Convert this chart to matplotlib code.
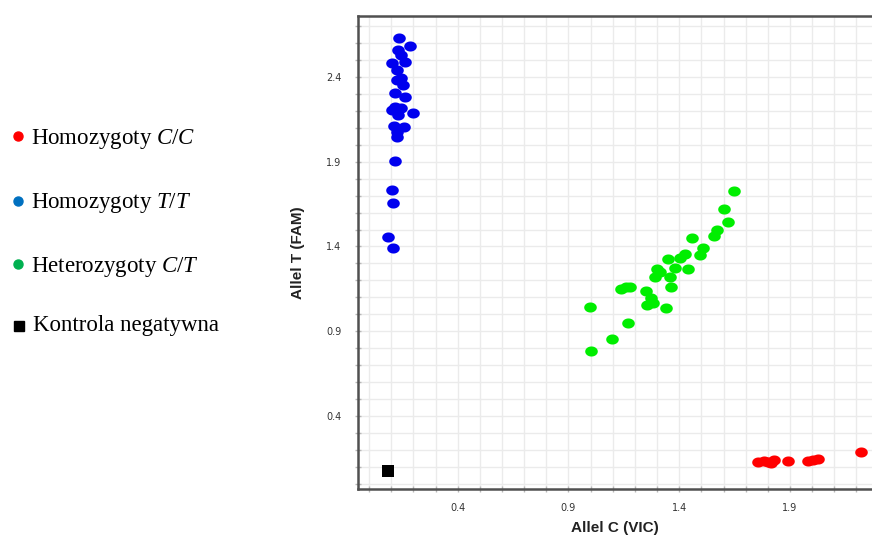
import matplotlib
matplotlib.use("Agg")
import matplotlib.pyplot as plt
import numpy as np
from matplotlib.path import Path
from matplotlib.ticker import MultipleLocator, FixedLocator

# ---------------- data ----------------
# Homozygoty T/T (blue)
tt_x = [0.134, 0.184, 0.130, 0.142, 0.164, 0.104, 0.124, 0.142, 0.154, 0.127,
        0.119, 0.164, 0.119, 0.142, 0.104, 0.197, 0.130, 0.157, 0.111, 0.127,
        0.127, 0.116, 0.104, 0.109, 0.086, 0.107]
tt_y = [2.628, 2.585, 2.559, 2.530, 2.490, 2.481, 2.440, 2.392, 2.353, 2.382,
        2.307, 2.280, 2.225, 2.215, 2.205, 2.186, 2.176, 2.107, 2.111, 2.077,
        2.048, 1.906, 1.733, 1.655, 1.458, 1.389]

# Heterozygoty C/T (green)
ct_x = [1.647, 1.604, 1.618, 1.572, 1.557, 1.456, 1.509, 1.493, 1.425, 1.403,
        1.347, 1.380, 1.438, 1.312, 1.290, 1.357, 1.365, 1.176, 1.139, 1.252,
        1.271, 1.256, 1.282, 1.339, 0.995, 1.169, 1.096, 1.003, 1.160, 1.300]
ct_y = [1.729, 1.619, 1.543, 1.497, 1.462, 1.448, 1.389, 1.350, 1.356, 1.334,
        1.324, 1.271, 1.265, 1.251, 1.222, 1.222, 1.163, 1.163, 1.149, 1.139,
        1.094, 1.055, 1.065, 1.039, 1.045, 0.947, 0.854, 0.785, 1.160, 1.270]

# Homozygoty C/C (red)
cc_x = [1.755, 1.781, 1.815, 1.826, 1.889, 1.981, 2.003, 2.027, 2.222, 1.800]
cc_y = [0.130, 0.136, 0.124, 0.140, 0.136, 0.136, 0.140, 0.146, 0.186, 0.128]

# Kontrola negatywna (black)
ntc_x = [0.086]
ntc_y = [0.076]

x_ticks = [0.4, 0.9, 1.4, 1.9]
y_ticks = [0.4, 0.9, 1.4, 1.9, 2.4]
x_label = "Allel C (VIC)"
y_label = "Allel T (FAM)"

legend_labels = [r"Homozygoty $\mathit{C/C}$", r"Homozygoty $\mathit{T/T}$",
                 r"Heterozygoty $\mathit{C/T}$", "Kontrola negatywna"]
legend_colors = ["#ff0000", "#0070c0", "#00b050", "#000000"]
legend_markers = ["o", "o", "o", "s"]

# ---------------- style ----------------
plt.rcParams["mathtext.fontset"] = "custom"
plt.rcParams["mathtext.rm"] = "Liberation Serif"
plt.rcParams["mathtext.it"] = "Liberation Serif:italic"

W, H = 872, 536
fig = plt.figure(figsize=(W / 100, H / 100), dpi=100)

ax = fig.add_axes([358 / W, 1 - 489 / H, 1 - 358 / W, (489 - 15.5) / H])
ax.set_xlim(-0.050, 2.270)
ax.set_ylim(-0.031, 2.763)

t = np.linspace(0, 2 * np.pi, 64)
ell = Path(np.column_stack([np.cos(t), 0.8 * np.sin(t)]), closed=True)

ax.scatter(tt_x, tt_y, marker=ell, s=82, color="#0000ee", linewidths=0, zorder=3)
ax.scatter(ct_x, ct_y, marker=ell, s=82, color="#00ee00", linewidths=0, zorder=3)
ax.scatter(cc_x, cc_y, marker=ell, s=82, color="#ff0000", linewidths=0, zorder=3)
ax.scatter(ntc_x, ntc_y, marker="s", s=70, color="#000000", linewidths=0, zorder=3)

ax.xaxis.set_major_locator(FixedLocator(x_ticks))
ax.yaxis.set_major_locator(FixedLocator(y_ticks))
ax.xaxis.set_minor_locator(MultipleLocator(0.1))
ax.yaxis.set_minor_locator(MultipleLocator(0.1))
ax.set_xticklabels([f"{v:.1f}" for v in x_ticks])
ax.set_yticklabels([f"{v:.1f}" for v in y_ticks])
ax.grid(which="both", color="#ebebeb", linewidth=1.0, zorder=0)
ax.set_axisbelow(True)
ax.tick_params(which="both", direction="inout", length=4, width=1,
               color="#b8b8b8", labelsize=7, labelcolor="#333333")
ax.tick_params(axis="x", pad=8)
ax.tick_params(axis="y", pad=10)

for s in ["left", "bottom", "top"]:
    ax.spines[s].set_color("#505050")
    ax.spines[s].set_linewidth(1.8)
ax.spines["right"].set_visible(False)

ax.set_xlabel(x_label, fontsize=11, fontweight="bold", family="Liberation Sans",
              color="#222222", labelpad=6)
ax.set_ylabel(y_label, fontsize=11, fontweight="bold", family="Liberation Sans",
              color="#222222", labelpad=15)

# ---------------- legend (left side) ----------------
leg = fig.add_axes([0, 0, 1, 1], facecolor="none")
leg.set_xlim(0, W)
leg.set_ylim(H, 0)
leg.axis("off")
row_y = [136, 200.5, 264, 325.5]
base_y = [144, 208.3, 272.3, 331]
text_x = [31, 31, 31, 33]
for lab, col, mk, ry, by, tx in zip(legend_labels, legend_colors, legend_markers,
                                     row_y, base_y, text_x):
    ms = 6.5 if mk == "o" else 7.0
    leg.plot([17.5 if mk == "o" else 19], [ry], marker=mk, ms=ms, color=col,
             linestyle="none")
    leg.text(tx, by, lab, fontsize=16.5, family="Liberation Serif",
             va="baseline", ha="left", color="#000000")

fig.savefig("out.png", dpi=100)
